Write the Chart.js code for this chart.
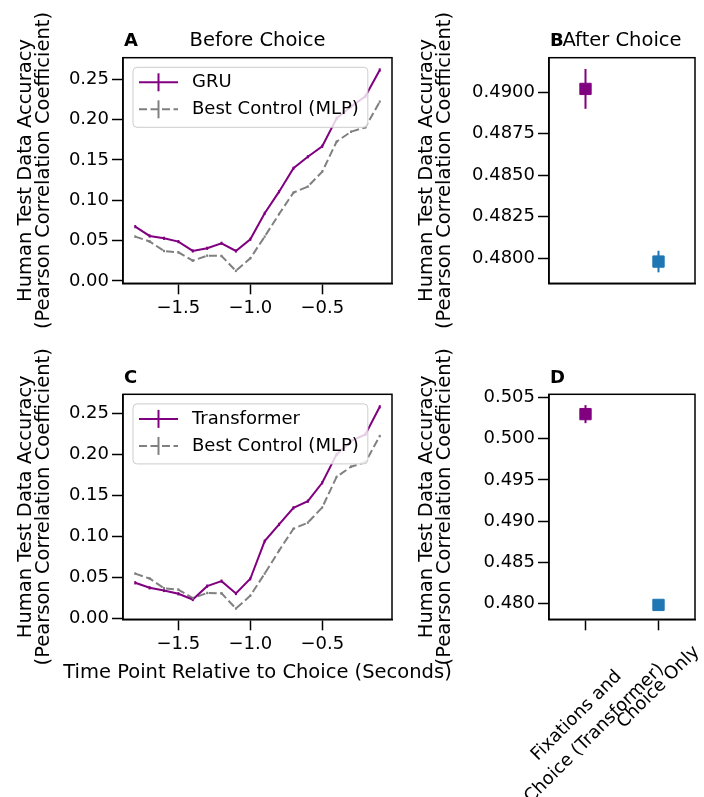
<!DOCTYPE html>
<html>
<head>
<meta charset="utf-8">
<script src="https://cdn.jsdelivr.net/npm/chart.js@4.4.1/dist/chart.umd.min.js"></script>
<style>
  html, body { margin: 0; padding: 0; background: #fff; }
  #fig { position: relative; width: 704px; height: 797px; overflow: hidden; background: #fff; }
  #fig canvas { position: absolute; }
</style>
</head>
<body>
<div id="fig">
  <canvas id="panelA" width="400" height="338" style="left:0;top:0"></canvas>
  <canvas id="panelB" width="303" height="338" style="left:401px;top:0"></canvas>
  <canvas id="panelC" width="470" height="349" style="left:0;top:336px"></canvas>
  <canvas id="panelD" width="303" height="461" style="left:401px;top:336px"></canvas>
</div>
<script>
// time points before the choice (seconds)
const timePoints = [-1.8, -1.7, -1.6, -1.5, -1.4, -1.3, -1.2, -1.1, -1.0, -0.9, -0.8, -0.7, -0.6, -0.5, -0.4, -0.3, -0.2, -0.1];

// accuracy per time point
const gruAcc = [0.0674, 0.0558, 0.0529, 0.0488, 0.0372, 0.0405, 0.0467, 0.0372, 0.0517, 0.0839, 0.1107, 0.1397, 0.1540, 0.1670, 0.2017, 0.2160, 0.2290, 0.2616];
const gruErr = [0.0020, 0.0020, 0.0020, 0.0020, 0.0020, 0.0020, 0.0020, 0.0020, 0.0020, 0.0020, 0.0020, 0.0020, 0.0020, 0.0020, 0.0020, 0.0020, 0.0020, 0.0020];
const transformerAcc = [0.0438, 0.0377, 0.0345, 0.0304, 0.0235, 0.0397, 0.0458, 0.0308, 0.0487, 0.0945, 0.1148, 0.1350, 0.1431, 0.1655, 0.2000, 0.2161, 0.2243, 0.2579];
const transformerErr = [0.0020, 0.0020, 0.0020, 0.0020, 0.0020, 0.0020, 0.0020, 0.0020, 0.0020, 0.0020, 0.0020, 0.0020, 0.0020, 0.0020, 0.0020, 0.0020, 0.0020, 0.0020];
const mlpAcc = [0.0550, 0.0490, 0.0372, 0.0355, 0.0252, 0.0314, 0.0310, 0.0125, 0.0281, 0.0550, 0.0830, 0.1095, 0.1170, 0.1355, 0.1727, 0.1850, 0.1905, 0.2223];
const mlpErr = [0.0015, 0.0015, 0.0015, 0.0015, 0.0015, 0.0015, 0.0015, 0.0015, 0.0015, 0.0015, 0.0015, 0.0015, 0.0015, 0.0015, 0.0015, 0.0015, 0.0015, 0.0015];

// after choice: model vs choice only
const afterLabels = [["Fixations and", "Choice (Transformer)"], "Choice Only"];
const afterGru = [0.4902, 0.4798];
const afterGruErr = [0.0012, 0.00065];
const afterTransformer = [0.5030, 0.4798];
const afterTransformerErr = [0.0011, 0.0005];

// tick values
const timeTicks = [-1.5, -1.0, -0.5];
const accTicks = [0.00, 0.05, 0.10, 0.15, 0.20, 0.25];
const afterTicksB = [0.4800, 0.4825, 0.4850, 0.4875, 0.4900];
const afterTicksD = [0.480, 0.485, 0.490, 0.495, 0.500, 0.505];

const PURPLE = "#800080";
const GREY = "#808080";
const BLUE = "#1f77b4";
const FONT = '"DejaVu Sans"';
const yLines = ["Human Test Data Accuracy", "(Pearson Correlation Coefficient)"];

Chart.defaults.font.family = FONT;
Chart.defaults.color = "#000";

const tickFont = { size: 18 };
const tickGrid = { display: true, drawOnChartArea: false, drawTicks: true, tickLength: 11, tickWidth: 1.5, color: "#000", tickColor: "#000" };
const axisBorder = { display: true, color: "#000", width: 1.5 };

function pairs(xs, ys) {
    return xs.map((x, i) => ({ x: x, y: ys[i] }));
}

// vertical error bars, placed with the y scale
const errorBars = {
    id: "errorBars",
    afterDatasetsDraw(chart) {
        const ctx = chart.ctx;
        const ys = chart.scales.y;
        chart.data.datasets.forEach((ds, di) => {
            if (!ds.errors) return;
            chart.getDatasetMeta(di).data.forEach((pt, i) => {
                const raw = ds.data[i];
                const v = typeof raw === "object" ? raw.y : raw;
                const e = ds.errors[i];
                ctx.save();
                ctx.strokeStyle = Array.isArray(ds.pointBackgroundColor) ? ds.pointBackgroundColor[i] : ds.borderColor;
                ctx.lineWidth = 2;
                ctx.beginPath();
                ctx.moveTo(pt.x, ys.getPixelForValue(v - e));
                ctx.lineTo(pt.x, ys.getPixelForValue(v + e));
                ctx.stroke();
                ctx.restore();
            });
        });
    }
};

// box round the plot area
const frame = {
    id: "frame",
    afterDraw(chart) {
        const { ctx, chartArea: a } = chart;
        ctx.save();
        ctx.strokeStyle = "#000";
        ctx.lineWidth = 1.5;
        ctx.strokeRect(a.left, a.top, a.right - a.left, a.bottom - a.top);
        ctx.restore();
    }
};

// panel letter, title and axis titles
const panelText = {
    id: "panelText",
    afterDraw(chart, args, opts) {
        const { ctx, chartArea: a } = chart;
        const base = a.top - 11.5;
        ctx.save();
        ctx.fillStyle = "#000";
        ctx.textBaseline = "alphabetic";
        ctx.textAlign = "left";
        ctx.font = "bold 18px " + FONT;
        ctx.fillText(opts.letter, a.left + 1, base);
        ctx.font = "19.5px " + FONT;
        if (opts.title) {
            ctx.textAlign = "center";
            ctx.fillText(opts.title, (a.left + a.right) / 2, base);
        }
        ctx.textAlign = "center";
        ctx.textBaseline = "middle";
        ctx.save();
        ctx.translate(25.5, (a.top + a.bottom) / 2);
        ctx.rotate(-Math.PI / 2);
        yLines.forEach((t, k) => ctx.fillText(t, 0, k * 18));
        ctx.restore();
        if (opts.xTitle) {
            ctx.fillText(opts.xTitle, (a.left + a.right) / 2, a.bottom + 54);
        }
        ctx.restore();
    }
};

// legend box in the upper left corner
const lineLegend = {
    id: "lineLegend",
    afterDraw(chart) {
        const { ctx, chartArea: a } = chart;
        const sets = chart.data.datasets;
        ctx.save();
        ctx.font = "18px " + FONT;
        const textW = Math.max(...sets.map(d => ctx.measureText(d.label).width));
        const x0 = a.left + 10;
        const y0 = a.top + 9.6;
        ctx.beginPath();
        ctx.roundRect(x0, y0, 59 + textW + 9, 60, 4);
        ctx.fillStyle = "rgba(255,255,255,0.8)";
        ctx.fill();
        ctx.strokeStyle = "#cccccc";
        ctx.lineWidth = 1;
        ctx.stroke();
        sets.forEach((d, i) => {
            const ry = y0 + 15 + i * 27;
            ctx.strokeStyle = d.borderColor;
            ctx.lineWidth = 2;
            ctx.setLineDash(d.borderDash || []);
            ctx.beginPath();
            ctx.moveTo(x0 + 6, ry);
            ctx.lineTo(x0 + 45, ry);
            ctx.stroke();
            ctx.setLineDash([]);
            ctx.beginPath();
            ctx.moveTo(x0 + 25.5, ry - 9);
            ctx.lineTo(x0 + 25.5, ry + 9);
            ctx.stroke();
            ctx.fillStyle = "#000";
            ctx.textBaseline = "middle";
            ctx.textAlign = "left";
            ctx.fillText(d.label, x0 + 59, ry);
        });
        ctx.restore();
    }
};

// slanted category labels under panel D
const slantedLabels = {
    id: "slantedLabels",
    afterDraw(chart) {
        const { ctx, chartArea: a } = chart;
        const xs = chart.scales.x;
        ctx.save();
        ctx.font = "18px " + FONT;
        ctx.fillStyle = "#000";
        ctx.textAlign = "center";
        ctx.textBaseline = "middle";
        chart.data.labels.forEach((lab, i) => {
            const lines = [].concat(lab);
            const w = Math.max(...lines.map(t => ctx.measureText(t).width));
            const h = 21 + (lines.length - 1) * 25;
            const half = (w + h) * Math.SQRT1_2 / 2;
            ctx.save();
            ctx.translate(xs.getPixelForValue(i), a.bottom + 22.4 + half);
            ctx.rotate(-Math.PI / 4);
            lines.forEach((t, k) => ctx.fillText(t, 0, (k - (lines.length - 1) / 2) * 25));
            ctx.restore();
        });
        ctx.restore();
    }
};

// line panel (A and C)
function timeChart(id, modelLabel, modelAcc, modelErr, pad, yMin, yMax, xHeight, extra) {
    return new Chart(document.getElementById(id), {
        type: "line",
        data: {
            datasets: [
                {
                    label: modelLabel,
                    data: pairs(timePoints, modelAcc),
                    errors: modelErr,
                    borderColor: PURPLE,
                    borderWidth: 2,
                    pointRadius: 0
                },
                {
                    label: "Best Control (MLP)",
                    data: pairs(timePoints, mlpAcc),
                    errors: mlpErr,
                    borderColor: GREY,
                    borderWidth: 2,
                    borderDash: [8, 3.5],
                    pointRadius: 0
                }
            ]
        },
        options: {
            responsive: false,
            animation: false,
            layout: { padding: pad },
            plugins: {
                legend: { display: false },
                tooltip: { enabled: false },
                panelText: extra
            },
            scales: {
                x: {
                    type: "linear",
                    min: -1.885,
                    max: -0.015,
                    afterFit: s => { s.height = xHeight; },
                    afterBuildTicks: s => { s.ticks = timeTicks.map(v => ({ value: v })); },
                    ticks: { font: tickFont, padding: 3, maxRotation: 0, autoSkip: false, callback: v => "\u2212" + Math.abs(v).toFixed(1) },
                    grid: tickGrid,
                    border: axisBorder
                },
                y: {
                    min: yMin,
                    max: yMax,
                    afterFit: s => { s.width = 123; },
                    afterBuildTicks: s => { s.ticks = accTicks.map(v => ({ value: v })); },
                    ticks: { font: tickFont, padding: 3, autoSkip: false, callback: v => v.toFixed(2) },
                    grid: tickGrid,
                    border: axisBorder
                }
            }
        },
        plugins: [errorBars, frame, lineLegend, panelText]
    });
}

// square marker panel (B and D)
function afterChart(id, values, errs, ticks, digits, yMin, yMax, xHeight, showTicks, extra) {
    const plugins = [errorBars, frame, panelText];
    if (showTicks) plugins.push(slantedLabels);
    return new Chart(document.getElementById(id), {
        type: "line",
        data: {
            labels: afterLabels,
            datasets: [
                {
                    data: values,
                    errors: errs,
                    showLine: false,
                    pointStyle: "rect",
                    pointRadius: 8,
                    pointBorderWidth: 1,
                    pointBackgroundColor: [PURPLE, BLUE],
                    pointBorderColor: [PURPLE, BLUE]
                }
            ]
        },
        options: {
            responsive: false,
            animation: false,
            layout: { padding: { left: 0, top: extra.top, right: 2, bottom: 0 } },
            plugins: {
                legend: { display: false },
                tooltip: { enabled: false },
                panelText: extra
            },
            scales: {
                x: {
                    type: "category",
                    offset: true,
                    afterFit: s => { s.height = xHeight; },
                    ticks: { display: false },
                    grid: showTicks ? tickGrid : { display: false },
                    border: axisBorder
                },
                y: {
                    min: yMin,
                    max: yMax,
                    afterFit: s => { s.width = 148; },
                    afterBuildTicks: s => { s.ticks = ticks.map(v => ({ value: v })); },
                    ticks: { font: tickFont, padding: 3, autoSkip: false, callback: v => v.toFixed(digits) },
                    grid: tickGrid,
                    border: axisBorder
                }
            }
        },
        plugins: plugins
    });
}

timeChart("panelA", "GRU", gruAcc, gruErr, { left: 0, top: 57.7, right: 8, bottom: 0 }, -0.0029, 0.2768, 54.7, { letter: "A", title: "Before Choice" });
afterChart("panelB", afterGru, afterGruErr, afterTicksB, 4, 0.47849, 0.49208, 54.7, false, { letter: "B", title: "After Choice", top: 57.7 });
timeChart("panelC", "Transformer", transformerAcc, transformerErr, { left: 0, top: 58.3, right: 78, bottom: 0 }, -0.0006, 0.2731, 65.7, { letter: "C", xTitle: "Time Point Relative to Choice (Seconds)" });
afterChart("panelD", afterTransformer, afterTransformerErr, afterTicksD, 3, 0.47805, 0.50541, 177.7, true, { letter: "D", top: 58.3 });
</script>
</body>
</html>
